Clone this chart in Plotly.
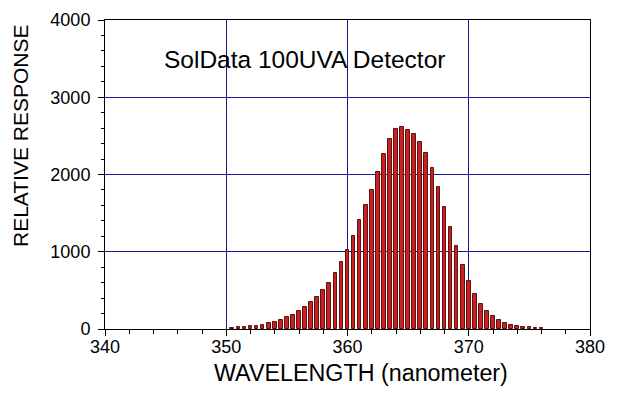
import plotly.graph_objects as go

wavelength = [350.5, 351, 351.5, 352, 352.5, 353, 353.5, 354, 354.5, 355,
              355.5, 356, 356.5, 357, 357.5, 358, 358.5, 359, 359.5, 360,
              360.5, 361, 361.5, 362, 362.5, 363, 363.5, 364, 364.5, 365,
              365.5, 366, 366.5, 367, 367.5, 368, 368.5, 369, 369.5, 370,
              370.5, 371, 371.5, 372, 372.5, 373, 373.5, 374, 374.5, 375,
              375.5, 376]
response = [10, 22, 22, 39, 39, 52, 78, 91, 117, 155,
            181, 233, 285, 350, 414, 505, 596, 725, 868, 1022,
            1207, 1414, 1605, 1800, 2028, 2265, 2455, 2585, 2615, 2572,
            2520, 2417, 2278, 2080, 1834, 1575, 1317, 1070, 826, 618,
            449, 320, 233, 164, 117, 78, 52, 35, 22, 22,
            13, 10]

title_text = "SolData 100UVA Detector"
x_label = "WAVELENGTH (nanometer)"
y_label = "RELATIVE RESPONSE"

FONT = "Liberation Sans, Arial, sans-serif"
GRID = "#1a1a88"

fig = go.Figure()
fig.add_trace(go.Bar(
    x=wavelength, y=response, width=0.3,
    marker=dict(color="#cc1f1f", line=dict(color="#5a1212", width=1)),
))

fig.update_layout(
    width=620, height=397,
    margin=dict(l=97, r=38, t=12, b=76, autoexpand=False),
    paper_bgcolor="white", plot_bgcolor="white",
    showlegend=False,
    font=dict(family=FONT, color="black", size=18),
    bargap=0,
    annotations=[
        dict(text=title_text, xref="paper", yref="paper", x=0.411, y=0.871,
             xanchor="center", yanchor="middle", showarrow=False,
             font=dict(family=FONT, size=24.5, color="black")),
        dict(text=x_label, xref="paper", yref="paper", x=0.5275, y=-0.141,
             xanchor="center", yanchor="middle", showarrow=False,
             font=dict(family=FONT, size=23.3, color="black")),
        dict(text=y_label, xref="paper", yref="paper", x=-0.1729, y=0.625,
             xanchor="center", yanchor="middle", showarrow=False, textangle=-90,
             font=dict(family=FONT, size=21, color="black")),
    ],
)

fig.update_xaxes(
    range=[340, 380], tick0=340, dtick=10, automargin=False,
    showline=True, linecolor="black", linewidth=1, mirror=True,
    showgrid=True, gridcolor=GRID, gridwidth=1,
    ticks="outside", ticklen=6, tickcolor="black",
    minor=dict(dtick=2, ticks="outside", ticklen=4, tickcolor="black", showgrid=False),
    zeroline=False, ticklabelstandoff=-5,
    tickfont=dict(family=FONT, size=18, color="black"),
)
fig.update_yaxes(
    range=[0, 4000], tick0=0, dtick=1000, automargin=False,
    showline=True, linecolor="black", linewidth=1, mirror=True,
    showgrid=True, gridcolor=GRID, gridwidth=1,
    ticks="outside", ticklen=6, tickcolor="black",
    minor=dict(dtick=200, ticks="outside", ticklen=3, tickcolor="black", showgrid=False),
    zeroline=False, ticklabelstandoff=4,
    tickfont=dict(family=FONT, size=18, color="black"),
)

fig.write_html("out.html")
